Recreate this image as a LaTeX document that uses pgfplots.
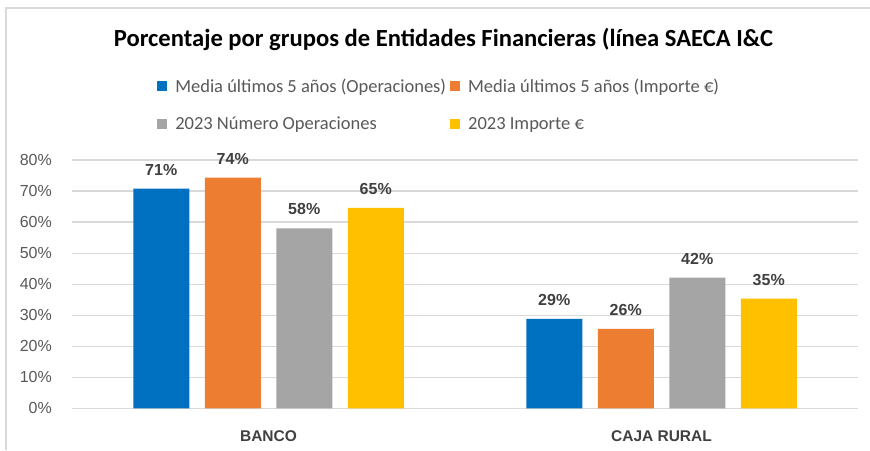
\documentclass[border=0pt]{standalone}
\usepackage{fontspec}
\setmainfont{Liberation Sans}
\newfontfamily\carlito{Carlito}
\usepackage{pgfplots}
\pgfplotsset{compat=1.18}
\definecolor{cBlue}{HTML}{0070C0}
\definecolor{cOrange}{HTML}{ED7D31}
\definecolor{cGray}{HTML}{A5A5A5}
\definecolor{cYellow}{HTML}{FFC000}
\definecolor{gridc}{HTML}{D9D9D9}
\definecolor{txtc}{HTML}{595959}
\definecolor{lblc}{HTML}{404040}
\begin{document}
\begin{tikzpicture}[x=1pt,y=1pt]
\path[use as bounding box, fill=white] (0,0) rectangle (870,450);
\draw[gridc, line width=1.5pt] (6,0) -- (6,442) -- (870,442);
\node[font=\carlito\bfseries\fontsize{24.6}{28}\selectfont, text=black, anchor=base, inner sep=0pt] at (443.5,403.3) {Porcentaje por grupos de Entidades Financieras (línea SAECA I\&C};
\begin{axis}[
  at={(72pt,41.7pt)}, anchor=south west,
  scale only axis, width=786pt, height=248.3pt,
  ybar=15.5pt, bar width=56pt,
  xmin=-0.5, xmax=1.5, ymin=0, ymax=80,
  xtick={0,1}, xticklabels={BANCO,CAJA RURAL},
  ytick={0,10,...,80},
  yticklabels={0\%,10\%,20\%,30\%,40\%,50\%,60\%,70\%,80\%},
  axis line style={draw=none}, tick style={draw=none},
  ymajorgrids, grid style={draw=gridc, line width=1.2pt},
  yticklabel style={font=\fontsize{16}{18}\selectfont, text=txtc, anchor=east, inner sep=0pt, xshift=-20pt},
  xticklabel style={font=\bfseries\fontsize{15.5}{18}\selectfont, text=lblc, anchor=north, inner sep=0pt, yshift=-18pt},
  nodes near coords={\pgfmathprintnumber[fixed,precision=0,assume math mode=true]{\pgfplotspointmeta}\%},
  every node near coord/.append style={font=\bfseries\fontsize{16}{18}\selectfont, text=lblc, anchor=south, inner sep=0pt, yshift=13pt},
  legend columns=2,
  legend cell align=left,
  legend image code/.code={\fill[#1] (0pt,-5pt) rectangle (10pt,5pt);},
  legend style={at={(0.1044,1.2215)}, anchor=west, draw=none, fill=none,
    font=\carlito\fontsize{18.5}{21}\selectfont, text=txtc,
    nodes={inner sep=0pt, anchor=west},
    row sep=23pt,
    /tikz/every odd column/.append style={column sep=8pt},
    /tikz/every even column/.append style={column sep=4pt}},
]
\addplot[fill=cBlue, draw=none] coordinates {(0,70.8) (1,28.8)};
\addplot[fill=cOrange, draw=none] coordinates {(0,74.3) (1,25.6)};
\addplot[fill=cGray, draw=none] coordinates {(0,58.0) (1,42.1)};
\addplot[fill=cYellow, draw=none] coordinates {(0,64.6) (1,35.3)};
\legend{Media últimos 5 años (Operaciones),Media últimos 5 años (Importe €),2023 Número Operaciones,2023 Importe €}
\end{axis}
\end{tikzpicture}
\end{document}
